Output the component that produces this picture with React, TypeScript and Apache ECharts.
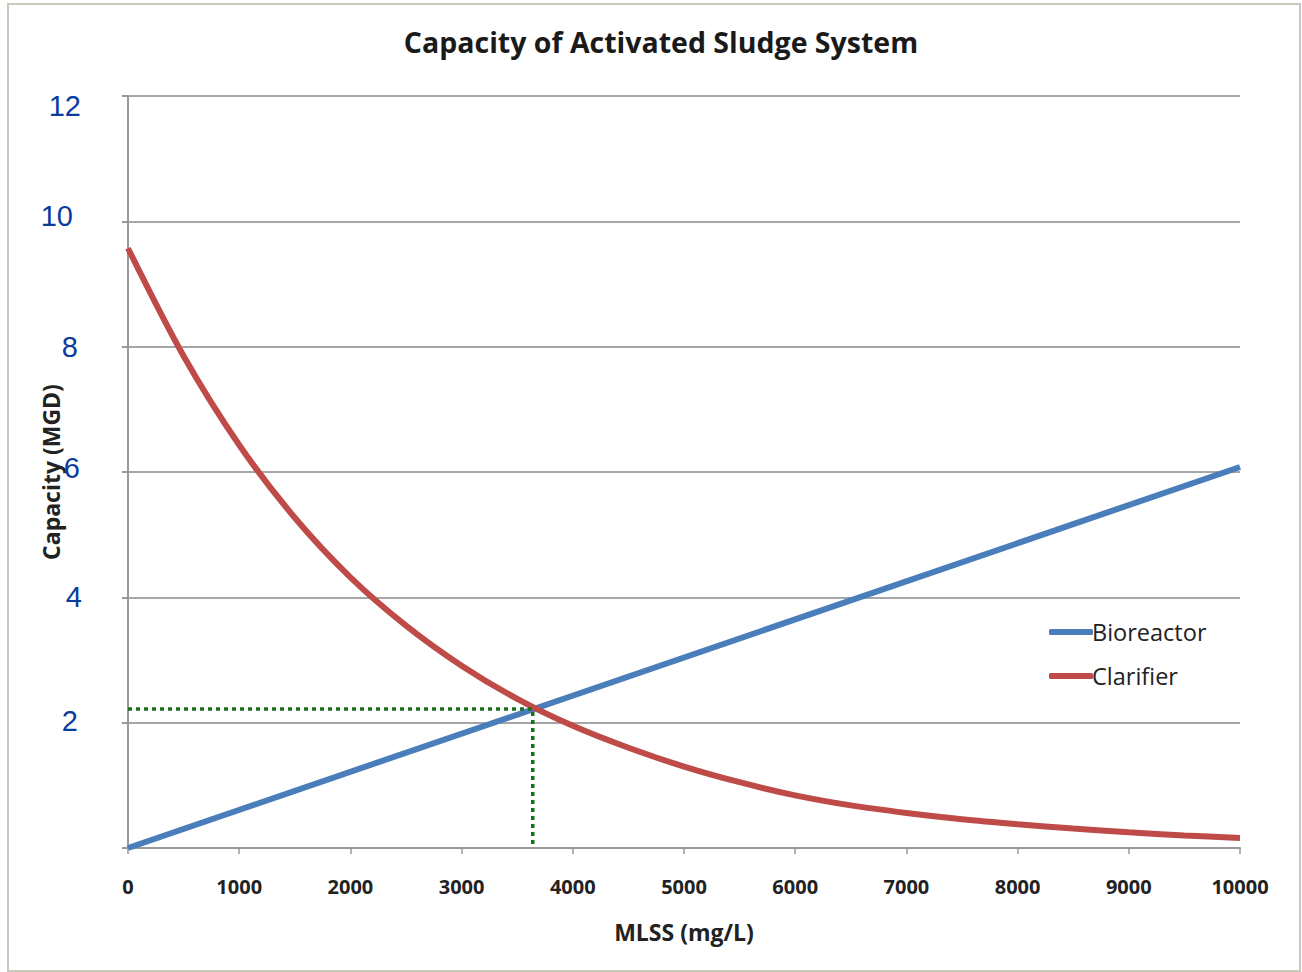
import React, { useEffect, useRef } from "react";
import * as echarts from "echarts";

// MLSS concentration (mg/L) at which the clarifier curve is sampled
const mlss = [
  0, 500, 1000, 1500, 2000, 2500, 3000, 3500, 4000, 4500, 5000,
  5500, 6000, 6500, 7000, 7500, 8000, 8500, 9000, 9500, 10000,
];
// Clarifier capacity (MGD) at each MLSS value
const clarifier = [
  9.57, 7.85, 6.43, 5.27, 4.32, 3.55, 2.91, 2.38, 1.95, 1.6, 1.3,
  1.05, 0.84, 0.68, 0.56, 0.46, 0.38, 0.31, 0.25, 0.2, 0.16,
];
// Bioreactor capacity is linear in MLSS
const bioreactorMlss = [0, 10000];
const bioreactor = [0, 6.08];
// Operating point where the two capacities meet
const operatingMlss = 3640;
const operatingCapacity = 2.22;

const yTicks = [0, 2, 4, 6, 8, 10, 12];

const UI_FONT = "'Open Sans', Lato, sans-serif";

export default function App() {
  const ref = useRef<HTMLDivElement>(null);

  useEffect(() => {
    if (!ref.current) return;
    const chart = echarts.init(ref.current, null, { renderer: "svg" });

    const clarifierData = mlss.map((x, i) => [x, clarifier[i]]);
    const bioData = bioreactorMlss.map((x, i) => [x, bioreactor[i]]);
    const guideData = [
      [0, operatingCapacity],
      [operatingMlss, operatingCapacity],
      [operatingMlss, 0],
    ];

    chart.setOption({
      animation: false,
      backgroundColor: "#ffffff",
      title: {
        text: "Capacity of Activated Sludge System",
        left: 656,
        top: 22,
        textAlign: "center",
        textStyle: {
          fontFamily: UI_FONT,
          fontWeight: "bold",
          fontSize: 28.5,
          color: "#1a1a1a",
        },
      },
      graphic: [
        {
          type: "rect",
          shape: { x: 8, y: 4, width: 1292, height: 967 },
          style: { fill: "none", stroke: "#c9cabb", lineWidth: 2 },
          silent: true,
          z: -1,
        },
      ],
      legend: {
        orient: "vertical",
        left: 1044,
        top: 613,
        itemWidth: 44,
        itemHeight: 6,
        itemGap: 16,
        icon: "roundRect",
        data: ["Bioreactor", "Clarifier"],
        textStyle: {
          fontFamily: UI_FONT,
          fontSize: 23.5,
          lineHeight: 28,
          color: "#222",
          padding: [0, 0, 0, -6],
        },
      },
      grid: { left: 128, right: 62, top: 96, bottom: 124 },
      xAxis: {
        type: "value",
        min: 0,
        max: 10000,
        interval: 1000,
        name: "MLSS (mg/L)",
        nameLocation: "middle",
        nameGap: 72,
        nameTextStyle: {
          fontFamily: UI_FONT,
          fontWeight: "bold",
          fontSize: 23,
          color: "#222",
          verticalAlign: "top",
        },
        axisLine: { show: true, lineStyle: { color: "#999", width: 2 } },
        axisTick: { show: true, length: 6, lineStyle: { color: "#999", width: 1.5 } },
        axisLabel: {
          margin: 28,
          fontFamily: UI_FONT,
          fontWeight: "bold",
          fontSize: 20,
          color: "#222",
          formatter: (v: number) => String(v),
        },
        splitLine: { show: false },
      },
      yAxis: {
        type: "value",
        min: 0,
        max: 12,
        interval: 2,
        name: "Capacity (MGD)",
        nameLocation: "middle",
        nameGap: 66,
        nameMoveOverlap: false,
        nameTextStyle: {
          fontFamily: UI_FONT,
          fontWeight: "bold",
          fontSize: 23,
          color: "#222",
        },
        axisLine: { show: true, lineStyle: { color: "#999", width: 2 } },
        axisTick: { show: true, length: 6, lineStyle: { color: "#999", width: 2 } },
        splitLine: { show: true, lineStyle: { color: "#a6a6a6", width: 2 } },
        axisLabel: {
          margin: 46,
          fontFamily: "'Liberation Sans', Arial, sans-serif",
          fontSize: 29,
          color: "#0b3b9f",
          customValues: yTicks,
          formatter: (v: number) => (v === 0 ? "" : `{l${v}|${v}}`),
          rich: {
            l12: { padding: [20, 1, 0, 0] },
            l10: { padding: [0, 9, 10, 0] },
            l8: { padding: [0, 4, 0, 0] },
            l6: { padding: [0, 2, 8, 0] },
            l4: { padding: [0, 0, 0, 0] },
            l2: { padding: [0, 4, 4, 0] },
          },
        },
      },
      series: [
        {
          name: "Bioreactor",
          type: "line",
          data: bioData,
          showSymbol: false,
          symbol: "none",
          lineStyle: { color: "#4a7ebb", width: 6 },
          itemStyle: { color: "#4a7ebb" },
          z: 3,
        },
        {
          name: "Clarifier",
          type: "line",
          data: clarifierData,
          smooth: 0.3,
          showSymbol: false,
          symbol: "none",
          lineStyle: { color: "#be4b48", width: 6 },
          itemStyle: { color: "#be4b48" },
          z: 4,
        },
        {
          name: "Operating point",
          type: "line",
          data: guideData,
          showSymbol: false,
          symbol: "none",
          lineStyle: { color: "#16701a", width: 3.5, type: [4, 4] },
          z: 5,
        },
      ],
    });

    return () => chart.dispose();
  }, []);

  return (
    <div
      ref={ref}
      style={{ position: "fixed", left: 0, top: 0, width: 1302, height: 972 }}
    />
  );
}
